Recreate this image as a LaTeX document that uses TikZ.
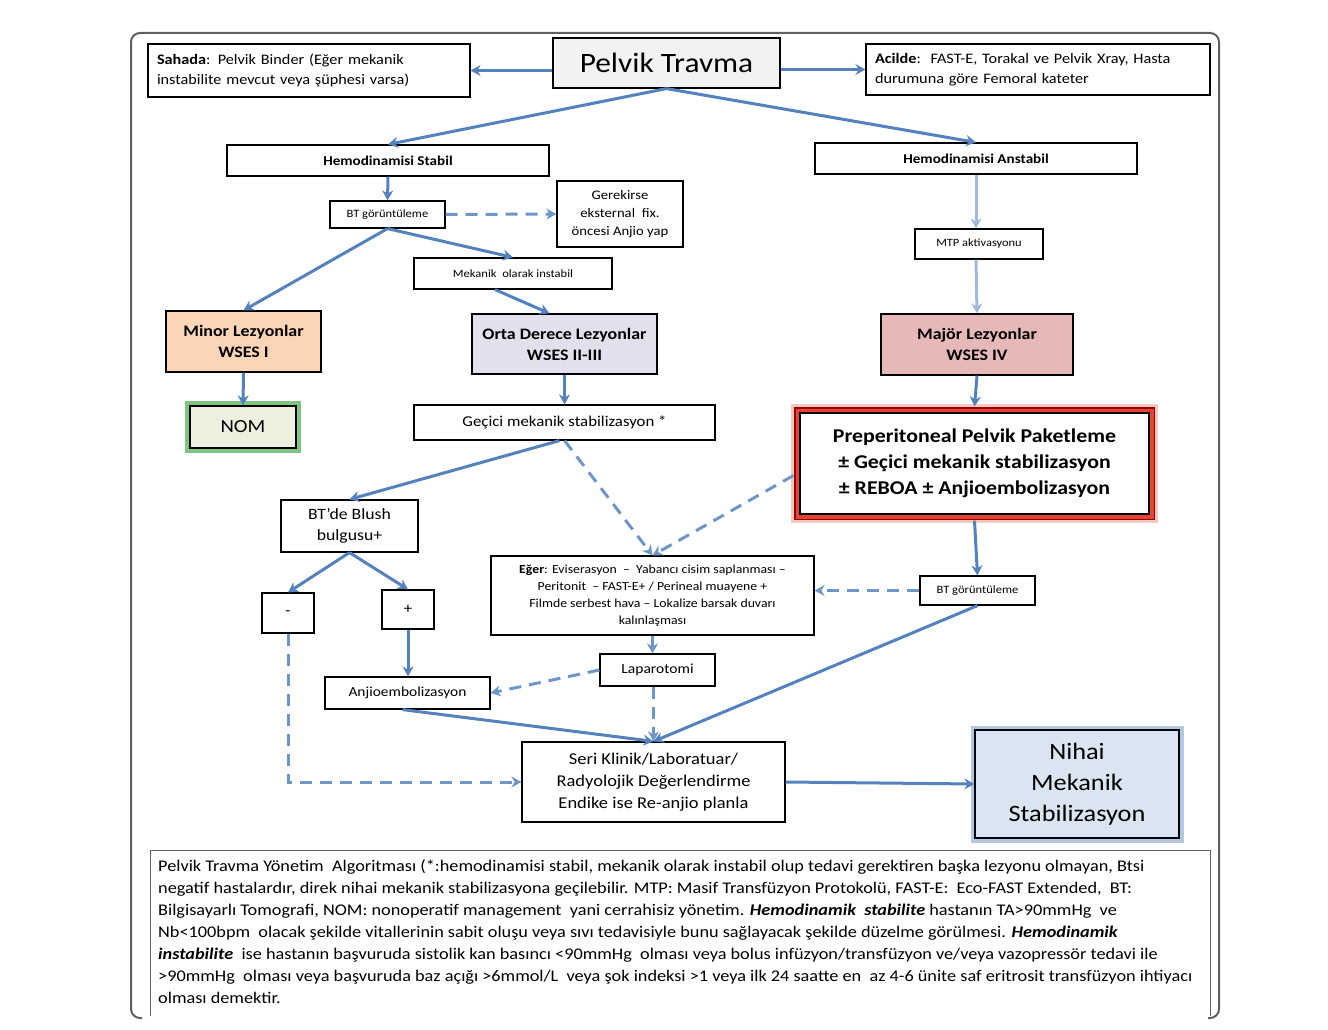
\documentclass[tikz,border=0pt]{standalone}
\usepackage{fontspec}
\setmainfont{Carlito}[FakeStretch=1.12]
\usepackage{xcolor}
\usepackage{tikz}
\usetikzlibrary{shapes,arrows.meta,positioning,fit,backgrounds}

\definecolor{arrowblue}{RGB}{84,130,190}
\definecolor{dashblue}{RGB}{110,150,200}
\definecolor{paleblue}{RGB}{160,186,222}
\definecolor{minorfill}{RGB}{251,213,181}
\definecolor{ortafill}{RGB}{228,223,236}
\definecolor{majorfill}{RGB}{230,185,184}
\definecolor{nomfill}{RGB}{235,241,222}
\definecolor{nihaifill}{RGB}{219,229,241}
\definecolor{framegray}{RGB}{95,95,95}
\definecolor{prepred}{RGB}{228,68,52}

\newcommand{\fs}[2]{\fontsize{#1}{#2}\selectfont}

\begin{document}
\begin{tikzpicture}[
    x=1pt, y=-1pt,
    box/.style={rectangle, draw=black, line width=1.2pt, fill=white, align=center, inner sep=2pt},
    lesion/.style={box, font=\fs{16}{21}\bfseries},
    link/.style={draw=arrowblue, line width=3pt, -{Stealth[length=10pt, width=11pt]}},
    dlink/.style={link, draw=dashblue, dash pattern=on 12pt off 8pt},
    plink/.style={link, draw=paleblue}
]
\useasboundingbox (0,0) rectangle (1328,1030);

% outer frame, open at the bottom
\draw[framegray, line width=2pt, rounded corners=9] (142,1018) -- (131,1018) -- (131,33) -- (1219,33) -- (1219,1018) -- (1208,1018);

% top row
\node[box, minimum width=227, minimum height=50, fill=black!5, font=\fs{28}{33}] (travma) at (666.5,63) {Pelvik Travma};
\node[box, minimum width=322, minimum height=53, text width=304, align=left, font=\fs{14.5}{20}] (sahada) at (309,70.5) {\textbf{Sahada}: Pelvik Binder (Eğer mekanik\\instabilite mevcut veya şüphesi varsa)};
\node[box, minimum width=344, minimum height=51, text width=326, align=left, font=\fs{14.5}{20}] (acilde) at (1038,69.5) {\textbf{Acilde}:\ \ FAST-E, Torakal ve Pelvik Xray, Hasta\\durumuna göre Femoral kateter};

\node[box, minimum width=322, minimum height=31, font=\fs{13.5}{16}\bfseries] (stabil) at (388,160.5) {Hemodinamisi Stabil};
\node[box, minimum width=322, minimum height=31, font=\fs{13.5}{16}\bfseries] (anstabil) at (976,158.5) {Hemodinamisi Anstabil};

% stabil branch
\node[box, minimum width=115, minimum height=27, font=\fs{11.2}{13}] (bta) at (387.5,214.5) {BT görüntüleme};
\node[box, minimum width=126, minimum height=66, font=\fs{13.1}{18}] (gerekirse) at (620,214) {Gerekirse\\eksternal\ \ fix.\\öncesi Anjio yap};
\node[box, minimum width=198, minimum height=31, font=\fs{11.2}{13}] (mekanik) at (513,273.5) {Mekanik\ \ olarak instabil};
\node[box, minimum width=128, minimum height=30, font=\fs{11.1}{13}] (mtp) at (979,244) {MTP aktivasyonu};

% lesion grades
\node[lesion, fill=minorfill, minimum width=155, minimum height=61] (minor) at (243.5,341.5) {Minor Lezyonlar\\WSES I};
\node[lesion, fill=ortafill, minimum width=185, minimum height=60] (orta) at (564.5,344) {Orta Derece Lezyonlar\\WSES II-III};
\node[lesion, fill=majorfill, minimum width=192, minimum height=61] (major) at (977,344.5) {Majör Lezyonlar\\WSES IV};

\node[box, fill=nomfill, minimum width=106, minimum height=42, font=\fs{18.5}{21},
    preaction={draw=green!55!black, line width=10pt, opacity=0.5}] (nom) at (243,427) {NOM};
\node[box, minimum width=301, minimum height=35, font=\fs{15}{18}] (gecici) at (564.5,422.5) {Geçici mekanik stabilizasyon *};
\node[box, minimum width=349, minimum height=101, font=\fs{19.5}{26}\bfseries,
    preaction={draw=prepred, line width=18pt, opacity=0.3},
    preaction={draw=red!60!black, line width=12pt},
    preaction={draw=prepred, line width=9pt}] (prep) at (974.5,463.5) {Preperitoneal Pelvik Paketleme\\± Geçici mekanik stabilizasyon\\± REBOA ± Anjioembolizasyon};

% lower part
\node[box, minimum width=137, minimum height=52, font=\fs{15.8}{21}] (blush) at (349.5,526) {BT’de Blush\\bulgusu+};
\node[box, minimum width=323, minimum height=79, font=\fs{12.3}{17}] (eger) at (652.5,595.5) {\textbf{Eğer}: Eviserasyon\ \ –\ \ Yabancı cisim saplanması –\\Peritonit\ \ – FAST-E+ / Perineal muayene +\\Filmde serbest hava – Lokalize barsak duvarı\\kalınlaşması};
\node[box, minimum width=115, minimum height=29, font=\fs{11.2}{13}] (btb) at (977.5,590.5) {BT görüntüleme};
\node[box, minimum width=52, minimum height=40, font=\fs{15}{18}] (neg) at (288,613) {-};
\node[box, minimum width=52, minimum height=39, font=\fs{15}{18}] (pos) at (408,609.5) {+};
\node[box, minimum width=115, minimum height=32, font=\fs{13.9}{17}] (lap) at (657.5,670) {Laparotomi};
\node[box, minimum width=165, minimum height=32, font=\fs{13.8}{17}] (anjio) at (407.5,693) {Anjioembolizasyon};
\node[box, minimum width=263, minimum height=80, font=\fs{16.5}{22}] (seri) at (653.5,782) {Seri Klinik/Laboratuar/\\Radyolojik Değerlendirme\\Endike ise Re-anjio planla};
\node[box, fill=nihaifill, minimum width=204, minimum height=108, font=\fs{23.5}{31},
    preaction={draw=arrowblue, line width=9pt, opacity=0.45}] (nihai) at (1077,784) {Nihai\\Mekanik\\Stabilizasyon};

% connectors
\draw[link] (travma.west |- sahada) -- (sahada.east);
\draw[link] (travma.east |- acilde) -- (acilde.west);
\draw[link] (travma.south) -- (stabil.north);
\draw[link] (travma.south) -- (anstabil.north);
\draw[link] (stabil.south) -- (bta.north);
\draw[dlink] (bta.east) -- (gerekirse.west);
\draw[link] (bta.south) -- (minor.north);
\draw[link] (bta.south) -- (mekanik.north);
\draw[link] ([xshift=-18pt]mekanik.south) -- ([xshift=-15pt]orta.north);
\draw[plink] (anstabil.south) -- (anstabil.south |- mtp.north);
\draw[plink] (mtp.south -| anstabil.south) -- (major.north);
\draw[link] (minor.south) -- (nom.north);
\draw[link] (orta.south) -- (gecici.north);
\draw[link] (major.south) -- ([yshift=6pt]prep.north);
\draw[link] ([xshift=-5pt]gecici.south) -- (blush.north);
\draw[dlink] (gecici.south) -- (eger.north);
\draw[dlink] ([yshift=-12pt, xshift=-6pt]prep.west) -- (eger.north);
\draw[link] ([yshift=-6pt]prep.south) -- (btb.north);
\draw[dlink] (btb.west) -- (btb.west -| eger.east);
\draw[link] (blush.south) -- (neg.north);
\draw[link] (blush.south) -- (pos.north);
\draw[link] (pos.south) -- (pos.south |- anjio.north);
\draw[dlink] (eger.south) -- (eger.south |- lap.north);
\draw[dlink] (lap.west) -- (anjio.east);
\draw[dlink] (seri.north |- lap.south) -- (seri.north);
\draw[link] ([xshift=-5pt]anjio.south) -- (seri.north);
\draw[link] (btb.south) -- (seri.north);
\draw[dlink] (neg.south) |- (seri.west);
\draw[link] (seri.east) -- (nihai.west);

% caption
\draw[framegray, line width=1pt] (150,1016) -- (150,850) -- (1210,850) -- (1210,1016);
\node[anchor=north west, inner sep=0pt, align=left, font=\fs{16.3}{22}] (caption) at (158,859) {%
Pelvik Travma Yönetim\ \ Algoritması (*:hemodinamisi stabil, mekanik olarak instabil olup tedavi gerektiren başka lezyonu olmayan, Btsi\\
negatif hastalardır, direk nihai mekanik stabilizasyona geçilebilir. MTP: Masif Transfüzyon Protokolü, FAST-E:\ \ Eco-FAST Extended,\ \ BT:\\
Bilgisayarlı Tomografi, NOM: nonoperatif management\ \ yani cerrahisiz yönetim. \textbf{\textit{Hemodinamik\ \ stabilite}} hastanın TA>90mmHg\ \ ve\\
Nb<100bpm\ \ olacak şekilde vitallerinin sabit oluşu veya sıvı tedavisiyle bunu sağlayacak şekilde düzelme görülmesi. \textbf{\textit{Hemodinamik}}\\
\textbf{\textit{instabilite}}\ \ ise hastanın başvuruda sistolik kan basıncı <90mmHg\ \ olması veya bolus infüzyon/transfüzyon ve/veya vazopressör tedavi ile\\
>90mmHg\ \ olması veya başvuruda baz açığı >6mmol/L\ \ veya şok indeksi >1 veya ilk 24 saatte en\ \ az 4-6 ünite saf eritrosit transfüzyon ihtiyacı\\
olması demektir.};

\end{tikzpicture}
\end{document}
